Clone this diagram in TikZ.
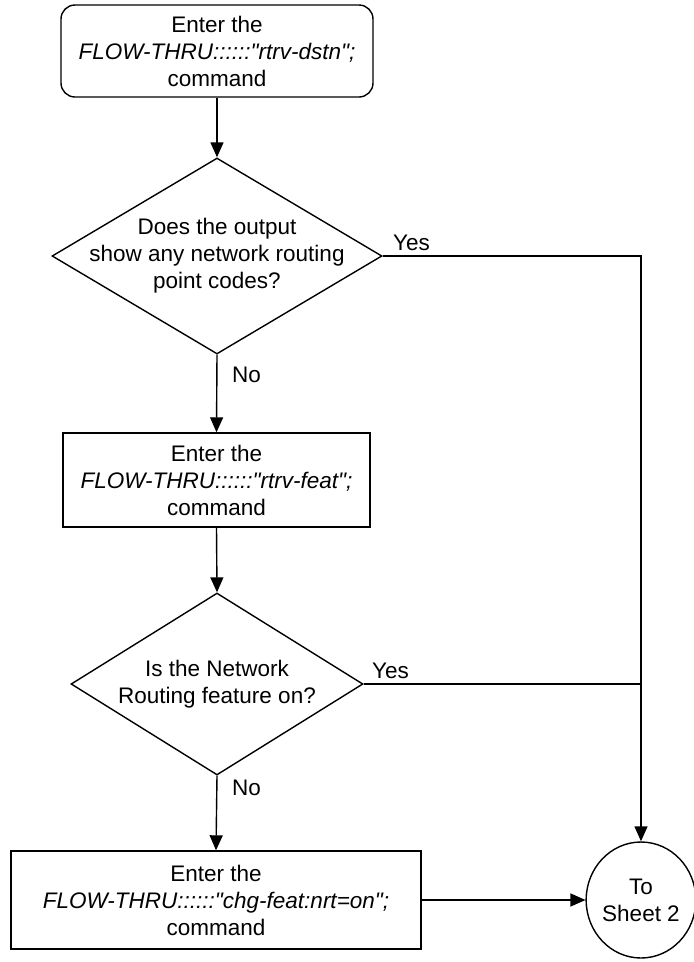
\documentclass[tikz,border=0pt]{standalone}
\usepackage{fontspec}
\setmainfont{Liberation Sans}
\usetikzlibrary{shapes.geometric,arrows.meta}
\newcommand{\qd}{\textquotedbl}
\begin{document}
\begin{tikzpicture}[x=1pt,y=-1pt,
  every node/.style={font=\fontsize{22.5}{27}\selectfont, inner sep=0pt},
  line/.style={line width=1.4pt},
  arr/.style={line width=1.4pt, -{Triangle[length=15pt,width=13pt]}},
  startbox/.style={draw, line width=1.4pt, rounded corners=14pt, align=center},
  procbox/.style={draw, line width=1.4pt, align=center},
  decision/.style={draw, line width=1.4pt, diamond},
  conn/.style={draw, line width=1.4pt, ellipse, align=center},
  lbl/.style={anchor=base west}]
\useasboundingbox (0,0) rectangle (694,962);

\node[startbox, minimum width=312pt, minimum height=92pt] (n1) at (217,51)
  {Enter the\\\textit{FLOW-THRU::::::\qd rtrv-dstn\qd;}\\command};

\node[decision, minimum width=330pt, minimum height=196pt] (d1) at (217,256) {};
\node[align=center] (d1t) at (217,256) {Does the output\\show any network routing\\point codes?};

\node[procbox, minimum width=307pt, minimum height=94pt] (b2) at (216.5,480)
  {Enter the\\\textit{FLOW-THRU::::::\qd rtrv-feat\qd;}\\command};

\node[decision, minimum width=292pt, minimum height=182pt] (d2) at (217,684) {};
\node[align=center] (d2t) at (217,684) {Is the Network\\Routing feature on?};

\node[procbox, minimum width=410pt, minimum height=98pt] (b3) at (216,900)
  {Enter the\\\textit{FLOW-THRU::::::\qd chg-feat:nrt=on\qd;}\\command};

\node[conn, minimum width=106pt, minimum height=116pt] (c) at (641,900) {To\\Sheet 2};

\coordinate (k1) at (641,256);
\coordinate (k2) at (641,684);

\draw[arr] (n1.south) -- (d1.north);
\draw[arr] (d1.south) -- (b2.north);
\draw[arr] (b2.south) -- (d2.north);
\draw[arr] (d2.south) -- (b3.north);
\draw[arr] (d1.east) -- (k1) -- (c.north);
\draw[line] (d2.east) -- (k2);
\draw[arr] (b3.east) -- (c.west);

\node[lbl] (y1) at (393,250) {Yes};
\node[lbl] (y2) at (372,678) {Yes};
\node[lbl] (no1) at (232,382) {No};
\node[lbl] (no2) at (232,795) {No};
\end{tikzpicture}
\end{document}
